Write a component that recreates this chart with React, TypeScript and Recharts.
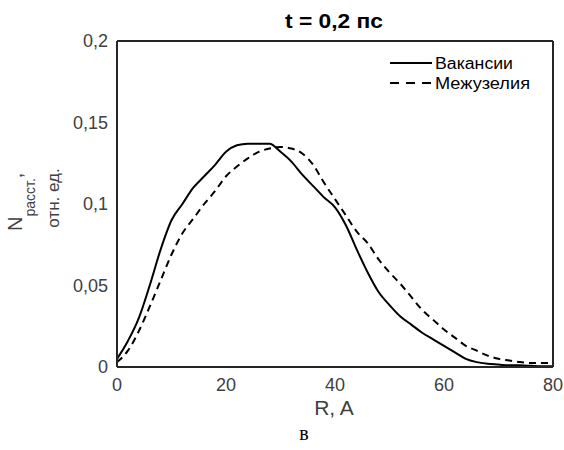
import { LineChart, Line, XAxis, YAxis, Label } from "recharts"

// R, A
const radii = [
  0, 2, 4, 6, 8, 10, 12, 14, 16, 18, 20, 22, 24, 26, 28, 30, 32, 34, 36, 38, 40,
  42, 44, 46, 48, 50, 52, 54, 56, 58, 60, 62, 64, 66, 68, 70, 72, 74, 76, 78, 80,
]

// Вакансии (solid)
const vacancies = [
  0.005, 0.016, 0.03, 0.05, 0.072, 0.09, 0.1, 0.11, 0.117, 0.124, 0.132, 0.136, 0.137,
  0.137, 0.137, 0.132, 0.126, 0.118, 0.111, 0.104, 0.098, 0.087, 0.072, 0.058, 0.046,
  0.038, 0.031, 0.026, 0.021, 0.017, 0.013, 0.009, 0.005, 0.003, 0.002, 0.0015, 0.001,
  0.001, 0.0007, 0.0005, 0.0005,
]

// Межузелия (dashed)
const interstitials = [
  0.003, 0.01, 0.022, 0.037, 0.053, 0.069, 0.082, 0.091, 0.1, 0.108, 0.117, 0.123, 0.128,
  0.132, 0.134, 0.135, 0.134, 0.131, 0.124, 0.113, 0.103, 0.093, 0.083, 0.076, 0.066,
  0.058, 0.051, 0.043, 0.035, 0.029, 0.023, 0.018, 0.013, 0.01, 0.007, 0.005, 0.004,
  0.003, 0.0024, 0.0024, 0.0024,
]

const xTicks = [0, 20, 40, 60, 80]
const yTicks = [0, 0.05, 0.1, 0.15, 0.2]

const data = radii.map((r, i) => ({ r, vac: vacancies[i], int: interstitials[i] }))

const FONT = "'Liberation Sans', Arial, sans-serif"
const AXIS = "#262626"
const TEXT = "#404040"
const TICK_LEN = 4

const fmt = (v: number) => String(v).replace(".", ",")

// ticks point inward (matlab style); labels drawn only on bottom/left
const makeTick = (side: "bottom" | "top" | "left" | "right") => (p: any) => {
  const ax = p.x1
  const ay = p.y1
  let line
  if (side === "bottom") line = <line x1={ax} y1={ay} x2={ax} y2={ay - TICK_LEN} />
  else if (side === "top") line = <line x1={ax} y1={ay} x2={ax} y2={ay + TICK_LEN} />
  else if (side === "left") line = <line x1={ax} y1={ay} x2={ax + TICK_LEN} y2={ay} />
  else line = <line x1={ax} y1={ay} x2={ax - TICK_LEN} y2={ay} />
  return (
    <g>
      <g stroke={AXIS} strokeWidth={1.5}>{line}</g>
      {side === "bottom" && (
        <text x={p.x} y={p.y} dy="0.71em" textAnchor="middle" fill={TEXT} fontSize={18} fontFamily={FONT}>
          {p.payload.value}
        </text>
      )}
      {side === "left" && (
        <text x={p.x} y={p.y} dy="0.355em" textAnchor="end" fill={TEXT} fontSize={18} fontFamily={FONT}>
          {fmt(p.payload.value)}
        </text>
      )}
    </g>
  )
}

const Decor = () => (
  <g>
    <g fontFamily={FONT}>
      <text x={334} y={21} textAnchor="middle" dominantBaseline="central" fontSize={20} fontWeight="bold" fill="#000" textLength={98} lengthAdjust="spacingAndGlyphs">
        t = 0,2 пс
      </text>
      <line x1={390} y1={63} x2={432} y2={63} stroke="#000" strokeWidth={2} />
      <text x={435} y={63} dominantBaseline="central" fontSize={16} fill="#000" textLength={78} lengthAdjust="spacingAndGlyphs">
        Вакансии
      </text>
      <line x1={390} y1={83} x2={432} y2={83} stroke="#000" strokeWidth={2} strokeDasharray="9 7" />
      <text x={435} y={83} dominantBaseline="central" fontSize={16} fill="#000" textLength={95} lengthAdjust="spacingAndGlyphs">
        Межузелия
      </text>
      <text x={334} y={407} textAnchor="middle" dominantBaseline="central" fontSize={21} fill={TEXT}>
        R, A
      </text>
    </g>
    <text x={304} y={440} textAnchor="middle" fontSize={20} fontFamily="'Liberation Serif', serif" fill="#000">
      в
    </text>
  </g>
)

const LeftDecor = () => (
  <g fill={TEXT} fontFamily={FONT}>
    <text transform="translate(22, 231) rotate(-90)" fontSize={20}>
      N<tspan fontSize={14} dy={13}>расст.</tspan>
      <tspan dy={-13}>,</tspan>
    </text>
    <text transform="translate(59, 198) rotate(-90)" textAnchor="middle" fontSize={17}>
      отн. ед.
    </text>
  </g>
)

const axisLine = { stroke: AXIS, strokeWidth: 2 }

export default function App() {
  return (
    <div style={{ position: "absolute", left: 0, top: 0, background: "#fff" }}>
      <LineChart width={564} height={450} data={data} margin={{ top: 40, right: 10, bottom: 53, left: 57 }}>
        <XAxis
          dataKey="r"
          type="number"
          domain={[0, 80]}
          ticks={xTicks}
          height={30}
          tickSize={0}
          tickMargin={11}
          axisLine={axisLine}
          tickLine={false}
          tick={makeTick("bottom")}
        >
          <Label content={() => <Decor />} />
        </XAxis>
        <XAxis
          xAxisId="top"
          orientation="top"
          dataKey="r"
          type="number"
          domain={[0, 80]}
          ticks={xTicks}
          height={1}
          tickSize={0}
          axisLine={axisLine}
          tickLine={false}
          tick={makeTick("top")}
        />
        <YAxis
          type="number"
          domain={[0, 0.2]}
          ticks={yTicks}
          width={60}
          tickSize={0}
          tickMargin={9}
          axisLine={axisLine}
          tickLine={false}
          tick={makeTick("left")}
        >
          <Label content={() => <LeftDecor />} />
        </YAxis>
        <YAxis
          yAxisId="right"
          orientation="right"
          type="number"
          domain={[0, 0.2]}
          ticks={yTicks}
          width={1}
          tickSize={0}
          axisLine={axisLine}
          tickLine={false}
          tick={makeTick("right")}
        />
        <Line
          dataKey="vac"
          name="Вакансии"
          type="monotone"
          stroke="#000"
          strokeWidth={2}
          dot={false}
          isAnimationActive={false}
        />
        <Line
          dataKey="int"
          name="Межузелия"
          type="monotone"
          stroke="#000"
          strokeWidth={2}
          strokeDasharray="7 5"
          dot={false}
          isAnimationActive={false}
        />
      </LineChart>
    </div>
  )
}
